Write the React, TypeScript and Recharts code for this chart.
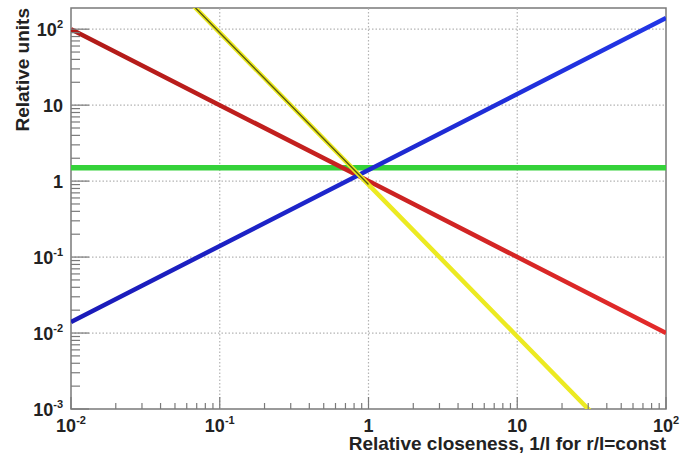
import React from "react";
import { LineChart, Line, XAxis, YAxis, ReferenceLine, ReferenceArea } from "recharts";

// ---- data ----
const xValues = [0.01, 0.1, 1, 10, 100];
const redSeries = [100, 10, 1, 0.1, 0.01];
const blueSeries = [0.014, 0.14, 1.4, 14, 140];
const yellowSeries = [9000, 90, 0.9, 0.009, 0.00009];
const yellowCore = [9000, 90, 0.9, null, null];
const greenSeries = [1.5, 1.5, 1.5, 1.5, 1.5];

// ---- axes ----
const xMajorTicks = [0.01, 0.1, 1, 10, 100];
const xTickLabels: [string, string][] = [["10", "-2"], ["10", "-1"], ["1", ""], ["10", ""], ["10", "2"]];
const yMajorTicks = [0.001, 0.01, 0.1, 1, 10, 100];
const yTickLabels: [string, string][] = [["10", "-3"], ["10", "-2"], ["10", "-1"], ["1", ""], ["10", ""], ["10", "2"]];
const minorMultipliers = [2, 3, 4, 5, 6, 7, 8, 9];
const X_DOMAIN: [number, number] = [0.01, 100];
const Y_DOMAIN: [number, number] = [0.001, 190];

const xTitle = "Relative closeness, 1/l for r/l=const";
const yTitle = "Relative units";

const withMinors = (majors: number[], max: number) => {
  const out: number[] = [];
  majors.forEach((m) => {
    out.push(m);
    minorMultipliers.forEach((k) => {
      const v = +(m * k).toPrecision(6);
      if (v <= max) out.push(v);
    });
  });
  return out;
};
const xTicks = withMinors(xMajorTicks, X_DOMAIN[1]);
const yTicks = withMinors(yMajorTicks, Y_DOMAIN[1]);

const majorIndex = (majors: number[], v: number) =>
  majors.findIndex((m) => Math.abs(m - v) / m < 1e-6);

const data = xValues.map((x, i) => ({
  x,
  red: redSeries[i],
  blue: blueSeries[i],
  yellow: yellowSeries[i],
  core: yellowCore[i],
  green: greenSeries[i],
}));

const FONT = "'Liberation Sans', Arial, Helvetica, sans-serif";
const TEXT_COLOR = "#222";
const AXIS_COLOR = "#7a7a7a";

const Label = ({ base, exp, ...rest }: any) => (
  <text {...rest} fontFamily={FONT} fontWeight="bold" fontSize={18} fill={TEXT_COLOR}>
    <tspan>{base}</tspan>
    {exp ? (
      <tspan fontSize={11} dy={-8}>
        {exp}
      </tspan>
    ) : null}
  </text>
);

const XTick = (props: any) => {
  const { x, y, payload } = props;
  const idx = majorIndex(xMajorTicks, payload.value);
  const major = idx >= 0;
  return (
    <g>
      <line x1={x} x2={x} y1={y} y2={y - (major ? 12 : 6)} stroke={AXIS_COLOR} strokeWidth={1.2} />
      {major && (
        <Label x={x} y={y + 23} textAnchor="middle" base={xTickLabels[idx][0]} exp={xTickLabels[idx][1]} />
      )}
    </g>
  );
};

const YTick = (props: any) => {
  const { x, y, payload } = props;
  const idx = majorIndex(yMajorTicks, payload.value);
  const major = idx >= 0;
  return (
    <g>
      <line x1={x} x2={x + (major ? 18 : 9)} y1={y} y2={y} stroke={AXIS_COLOR} strokeWidth={1.2} />
      {major && (
        <Label x={x - 8} y={y + 6.5} textAnchor="end" base={yTickLabels[idx][0]} exp={yTickLabels[idx][1]} />
      )}
    </g>
  );
};

export default function App() {
  return (
    <div style={{ position: "absolute", left: 0, top: 0, width: 686, height: 453, background: "#fff" }}>
      <LineChart width={686} height={453} data={data} margin={{ top: 8, right: 20, bottom: 0, left: 0 }}>
        <defs>
          <linearGradient id="redGrad" x1="0" y1="0" x2="1" y2="0">
            <stop offset="0%" stopColor="#b01a18" />
            <stop offset="100%" stopColor="#e32a2a" />
          </linearGradient>
          <linearGradient id="blueGrad" x1="0" y1="0" x2="1" y2="0">
            <stop offset="0%" stopColor="#1a1ab8" />
            <stop offset="100%" stopColor="#2236e6" />
          </linearGradient>
        </defs>
        <XAxis
          dataKey="x"
          type="number"
          scale="log"
          domain={X_DOMAIN}
          ticks={xTicks}
          interval={0}
          allowDataOverflow
          tickLine={false}
          axisLine={false}
          tickSize={0}
          tickMargin={0}
          height={44}
          tick={(p: any) => <XTick {...p} />}
        />
        <YAxis
          type="number"
          scale="log"
          domain={Y_DOMAIN}
          ticks={yTicks}
          interval={0}
          allowDataOverflow
          tickLine={false}
          axisLine={false}
          tickSize={0}
          tickMargin={0}
          width={71}
          tick={(p: any) => <YTick {...p} />}
        />
        {xMajorTicks.slice(1, -1).map((v) => (
          <ReferenceLine key={"gx" + v} x={v} stroke="#b4b4b4" strokeDasharray="1.5 2" strokeWidth={1.2} />
        ))}
        {yMajorTicks.slice(1).map((v) => (
          <ReferenceLine key={"gy" + v} y={v} stroke="#b4b4b4" strokeDasharray="1.5 2" strokeWidth={1.2} />
        ))}
        <Line dataKey="green" stroke="#35d23a" strokeWidth={5.5} dot={false} isAnimationActive={false} />
        <Line dataKey="red" stroke="url(#redGrad)" strokeWidth={4.5} dot={false} isAnimationActive={false} />
        <Line dataKey="blue" stroke="url(#blueGrad)" strokeWidth={4.5} dot={false} isAnimationActive={false} />
        <Line dataKey="yellow" stroke="#ecea22" strokeWidth={4.5} dot={false} isAnimationActive={false} />
        <Line dataKey="core" stroke="#5a5a10" strokeWidth={1.4} dot={false} isAnimationActive={false} connectNulls={false} />
        <ReferenceArea
          x1={X_DOMAIN[0]}
          x2={X_DOMAIN[1]}
          y1={Y_DOMAIN[0]}
          y2={Y_DOMAIN[1]}
          fill="none"
          fillOpacity={0}
          stroke={AXIS_COLOR}
          strokeWidth={1.5}
        />
        <text x={666} y={450} textAnchor="end" fontFamily={FONT} fontWeight="bold" fontSize={19} fill={TEXT_COLOR}>
          {xTitle}
        </text>
        <text
          transform="translate(29, 8) rotate(-90)"
          x={0}
          y={0}
          textAnchor="end"
          fontFamily={FONT}
          fontWeight="bold"
          fontSize={19}
          fill={TEXT_COLOR}
        >
          {yTitle}
        </text>
      </LineChart>
    </div>
  );
}
